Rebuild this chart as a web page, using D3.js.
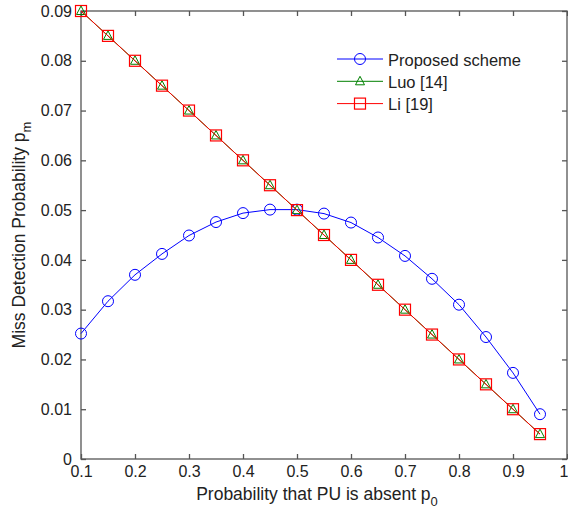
<!DOCTYPE html>
<html>
<head>
<meta charset="utf-8">
<script src="https://cdn.jsdelivr.net/npm/d3@7"></script>
<style>
  body { margin: 0; background: #fff; }
  text { font-family: "Liberation Sans", Arial, sans-serif; fill: #222; }
</style>
</head>
<body>
<div id="svg-wrapper"></div>
<script>
// data
const p0 = [0.1, 0.15, 0.2, 0.25, 0.3, 0.35, 0.4, 0.45, 0.5, 0.55, 0.6, 0.65, 0.7, 0.75, 0.8, 0.85, 0.9, 0.95];
const proposed = [0.0252, 0.0317, 0.037, 0.0412, 0.0449, 0.0476, 0.0494, 0.0501, 0.0501, 0.0493, 0.0475, 0.0445, 0.0408, 0.0362, 0.031, 0.0245, 0.0173, 0.009];
const luo = [0.09, 0.085, 0.08, 0.075, 0.07, 0.065, 0.06, 0.055, 0.05, 0.045, 0.04, 0.035, 0.03, 0.025, 0.02, 0.015, 0.01, 0.005];
const li = [0.09, 0.085, 0.08, 0.075, 0.07, 0.065, 0.06, 0.055, 0.05, 0.045, 0.04, 0.035, 0.03, 0.025, 0.02, 0.015, 0.01, 0.005];
const xTicks = [0.1, 0.2, 0.3, 0.4, 0.5, 0.6, 0.7, 0.8, 0.9, 1];
const yTicks = [0, 0.01, 0.02, 0.03, 0.04, 0.05, 0.06, 0.07, 0.08, 0.09];
const seriesNames = ["Proposed scheme", "Luo [14]", "Li [19]"];

const width = 568, height = 516;
const padL = 81, padR = 567, padT = 11, padB = 459;

const svg = d3.select("#svg-wrapper").append("svg")
  .attr("width", width).attr("height", height);

const xScale = d3.scaleLinear().domain([0.1, 1]).range([padL, padR]);
const yScale = d3.scaleLinear().domain([0, 0.09]).range([padB, padT]);

// frame
svg.append("rect")
  .attr("x", padL).attr("y", padT)
  .attr("width", padR - padL).attr("height", padB - padT)
  .attr("fill", "none").attr("stroke", "#555").attr("stroke-width", 1.3);

const fmt = (d) => String(d);

// axes with inward ticks
const xAxis = d3.axisBottom(xScale).tickValues(xTicks).tickSizeInner(-5).tickSizeOuter(0).tickPadding(7).tickFormat(fmt);
const yAxis = d3.axisLeft(yScale).tickValues(yTicks).tickSizeInner(-5).tickSizeOuter(0).tickPadding(9).tickFormat(fmt);
const xTop = d3.axisTop(xScale).tickValues(xTicks).tickSizeInner(-5).tickSizeOuter(0).tickFormat("");
const yRight = d3.axisRight(yScale).tickValues(yTicks).tickSizeInner(-5).tickSizeOuter(0).tickFormat("");

const gx = svg.append("g").attr("transform", `translate(0, ${padB})`).call(xAxis);
svg.append("g").attr("transform", `translate(${padL}, 0)`).call(yAxis);
svg.append("g").attr("transform", `translate(0, ${padT})`).call(xTop);
svg.append("g").attr("transform", `translate(${padR}, 0)`).call(yRight);

svg.selectAll(".domain").remove();
svg.selectAll(".tick line").attr("stroke", "#555").attr("stroke-width", 1.3);
svg.selectAll(".tick text").style("font-size", "16px").style("font-family", "Liberation Sans, Arial, sans-serif").attr("fill", "#222");
// last x label sits on the image edge, keep it inside
gx.selectAll(".tick text").filter((d) => d === 1).attr("text-anchor", "end").attr("x", 1);

// axis labels
const xl = svg.append("text")
  .attr("x", 317).attr("y", 500)
  .attr("text-anchor", "middle").style("font-size", "17.5px");
xl.append("tspan").text("Probability that PU is absent p");
xl.append("tspan").attr("dy", 6).style("font-size", "13px").text("0");

const yl = svg.append("text")
  .attr("transform", `translate(25, ${(padT + padB) / 2}) rotate(-90)`)
  .attr("text-anchor", "middle").style("font-size", "17.5px");
yl.append("tspan").text("Miss Detection Probability p");
yl.append("tspan").attr("dy", 6).style("font-size", "13px").text("m");

const line = d3.line().x((d) => xScale(d[0])).y((d) => yScale(d[1]));

const series = [
  { name: seriesNames[0], values: proposed, color: "#0000ff", symbol: "circle" },
  { name: seriesNames[1], values: luo, color: "#008000", symbol: "triangle" },
  { name: seriesNames[2], values: li, color: "#ff0000", symbol: "square" },
];

function drawMarker(g, type, color) {
  if (type === "circle") {
    g.append("circle").attr("r", 5.5).attr("fill", "none").attr("stroke", color).attr("stroke-width", 1);
  } else if (type === "square") {
    g.append("rect").attr("x", -5.5).attr("y", -5.5).attr("width", 11).attr("height", 11)
      .attr("fill", "none").attr("stroke", color).attr("stroke-width", 1.2);
  } else {
    g.append("path").attr("d", "M0,-5 L4.5,3.5 L-4.5,3.5 Z")
      .attr("fill", "none").attr("stroke", color).attr("stroke-width", 1);
  }
}

series.forEach((s) => {
  const pts = p0.map((x, i) => [x, s.values[i]]);
  svg.append("path").datum(pts)
    .attr("d", line).attr("fill", "none")
    .attr("stroke", s.color).attr("stroke-width", 1);
  svg.append("g").selectAll("g").data(pts).enter().append("g")
    .attr("transform", (d) => `translate(${xScale(d[0])}, ${yScale(d[1])})`)
    .each(function () { drawMarker(d3.select(this), s.symbol, s.color); });
});

// legend
const legend = svg.append("g");
series.forEach((s, i) => {
  const y = 59 + i * 22.3;
  legend.append("line").attr("x1", 337).attr("x2", 383).attr("y1", y).attr("y2", y)
    .attr("stroke", s.color).attr("stroke-width", 1);
  const m = legend.append("g").attr("transform", `translate(360, ${y})`);
  drawMarker(m, s.symbol, s.color);
  legend.append("text").attr("x", 388).attr("y", y + 6.5)
    .style("font-size", "16.5px").text(s.name);
});
</script>
</body>
</html>
